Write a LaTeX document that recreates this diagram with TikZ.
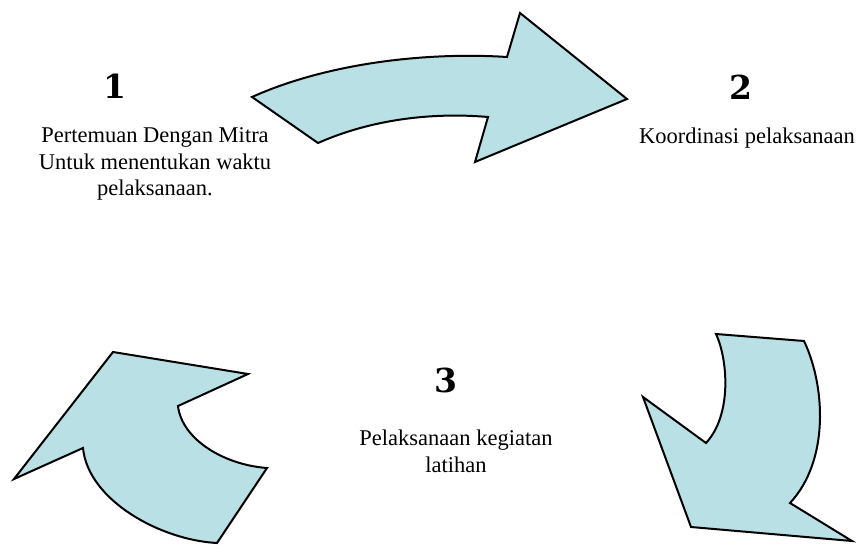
\documentclass[tikz,border=0pt]{standalone}
\usepackage{fontspec}
\setmainfont{Liberation Serif}
\newfontfamily\numfont{DejaVu Serif Bold}
\definecolor{arrowfill}{RGB}{185,224,228}
\tikzset{
	bigarrow/.style={draw=black,fill=arrowfill,line width=2pt,line join=miter},
	stepnum/.style={font=\numfont\fontsize{33}{33}\selectfont,inner sep=0pt},
	steptext/.style={font=\fontsize{22.5}{26.7}\selectfont,align=center,inner sep=0pt}
}

\begin{document}
\begin{tikzpicture}[x=1pt,y=-1pt]
	\useasboundingbox (0,0) rectangle (861,545);

	\begin{scope} % Arrow 1 -> 2
		\filldraw[bigarrow](252,97) -- (318,143)
			.. controls (370,120) and (430,112) .. (488,117)
			-- (475,162) -- (627,99) -- (520,13) -- (507,57)
			.. controls (430,52) and (330,62) .. (252,97) -- cycle;
	\end{scope}

	\begin{scope} % Arrow 2 -> 3
		\filldraw[bigarrow](716,334) -- (804,341)
			.. controls (825,385) and (830,460) .. (790,503)
			-- (852,541) -- (691,527) -- (643,397) -- (706,443)
			.. controls (732,415) and (728,360) .. (716,334) -- cycle;
	\end{scope}

	\begin{scope} % Arrow 3 -> 1
		\filldraw[bigarrow](113,352) -- (248,374) -- (178,406)
			.. controls (182,440) and (225,465) .. (267,468)
			-- (217,543)
			.. controls (160,540) and (88,500) .. (83,448)
			-- (14,479) -- cycle;
	\end{scope}

	% Steps
	\node[stepnum] (num1) at (115,86) {1};
	\node[steptext] (text1) at (155,164) {Pertemuan Dengan Mitra\\Untuk menentukan waktu\\pelaksanaan.};

	\node[stepnum] (num2) at (741,87) {2};
	\node[steptext] (text2) at (747,138) {Koordinasi pelaksanaan};

	\node[stepnum] (num3) at (446,380) {3};
	\node[steptext] (text3) at (456,451) {Pelaksanaan kegiatan\\latihan};
\end{tikzpicture}
\end{document}
